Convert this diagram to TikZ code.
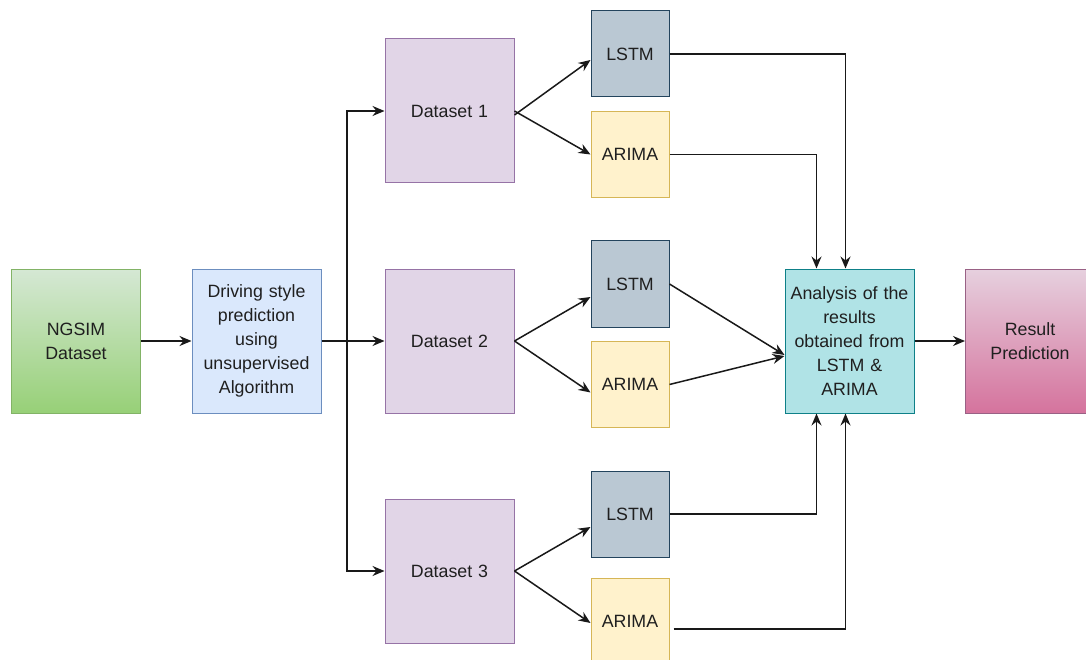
\documentclass[tikz,border=0pt]{standalone}
\usepackage{fontspec}
\setmainfont{Liberation Sans}
\usetikzlibrary{arrows.meta}
\definecolor{grnTop}{HTML}{D5E8D4}
\definecolor{grnBot}{HTML}{97D077}
\definecolor{grnLine}{HTML}{82B366}
\definecolor{bluFill}{HTML}{DAE8FC}
\definecolor{bluLine}{HTML}{6C8EBF}
\definecolor{purFill}{HTML}{E1D5E7}
\definecolor{purLine}{HTML}{9673A6}
\definecolor{gryFill}{HTML}{BAC8D3}
\definecolor{gryLine}{HTML}{23445D}
\definecolor{ylwFill}{HTML}{FFF2CC}
\definecolor{ylwLine}{HTML}{D6B656}
\definecolor{cyaFill}{HTML}{B0E3E6}
\definecolor{cyaLine}{HTML}{0E8088}
\definecolor{pnkTop}{HTML}{E6D0DE}
\definecolor{pnkBot}{HTML}{D5739D}
\definecolor{pnkLine}{HTML}{996185}
\tikzset{
  box/.style={draw, line width=1pt, align=center, inner sep=2pt,
    font=\fontsize{17.8}{24}\selectfont, text=black!88},
  bigbox/.style={box, minimum width=129pt, minimum height=144pt, text width=125pt},
  smallbox/.style={box, minimum width=78pt, minimum height=86pt},
  arr/.style={line width=1.5pt, draw=black!90, -{Stealth[length=12pt,width=10pt,inset=4pt]}},
}
\begin{document}
\begin{tikzpicture}[x=1pt,y=-1pt]
\clip (0,0) rectangle (1086,660);
\fill[white] (0,0) rectangle (1086,660);
\node[bigbox, draw=grnLine, top color=grnTop, bottom color=grnBot] (ng) at (76,341) {NGSIM\\Dataset};
\node[bigbox, draw=bluLine, fill=bluFill] (drv) at (256.5,341) {Driving style\\prediction\\using\\unsupervised\\Algorithm};
\node[bigbox, draw=purLine, fill=purFill] (ds1) at (449.5,111) {Dataset 1};
\node[bigbox, draw=purLine, fill=purFill] (ds2) at (449.5,341) {Dataset 2};
\node[bigbox, draw=purLine, fill=purFill] (ds3) at (449.5,571) {Dataset 3};
\node[smallbox, draw=gryLine, fill=gryFill] (l1) at (630,54) {LSTM};
\node[smallbox, draw=ylwLine, fill=ylwFill] (a1) at (630,154.5) {ARIMA};
\node[smallbox, draw=gryLine, fill=gryFill] (l2) at (630,284) {LSTM};
\node[smallbox, draw=ylwLine, fill=ylwFill] (a2) at (630,384.5) {ARIMA};
\node[smallbox, draw=gryLine, fill=gryFill] (l3) at (630,514) {LSTM};
\node[smallbox, draw=ylwLine, fill=ylwFill] (a3) at (630,621) {ARIMA};
\node[bigbox, draw=cyaLine, fill=cyaFill] (an) at (849.5,341) {Analysis of the\\results\\obtained from\\LSTM \&\\ARIMA};
\node[bigbox, draw=pnkLine, top color=pnkTop, bottom color=pnkBot] (res) at (1030,341) {Result\\Prediction};
% connectors
\draw[arr] (ng.east) -- (drv.west);
\draw[arr] (drv.east) -- (ds2.west);
\coordinate (br) at (347,341);
\draw[arr] (br) |- (ds1.west);
\draw[arr] (br) |- (ds3.west);
\draw[arr] ([yshift=-4pt]ds1.east) -- ([yshift=-6pt]l1.west);
\draw[arr] (ds1.east) -- (a1.west);
\draw[arr] (ds2.east) -- ([yshift=-13pt]l2.west);
\draw[arr] (ds2.east) -- ([yshift=-8pt]a2.west);
\draw[arr] (ds3.east) -- ([yshift=-13pt]l3.west);
\draw[arr] (ds3.east) -- ([yshift=-2pt]a3.west);
\draw[arr] (l1.east) -| ([xshift=61pt]an.north west);
\draw[arr] (a1.east) -| ([xshift=32pt]an.north west);
\draw[arr] (l3.east) -| ([xshift=32pt]an.south west);
\draw[arr] ([xshift=4pt,yshift=-8pt]a3.east) -| ([xshift=61pt]an.south west);
\draw[arr] (l2.east) -- ([yshift=-14pt]an.west);
\draw[arr] (a2.east) -- ([yshift=-15pt]an.west);
\draw[arr] (an.east) -- (res.west);
\end{tikzpicture}
\end{document}
